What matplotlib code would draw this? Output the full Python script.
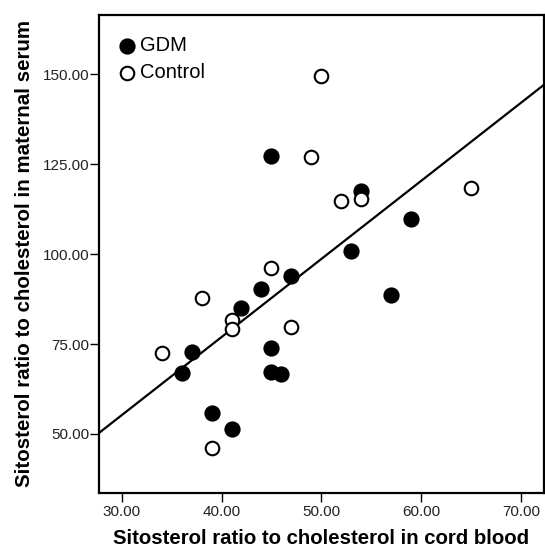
import numpy as np
import matplotlib.pyplot as plt

plt.rcParams['font.family'] = ['Liberation Sans', 'DejaVu Sans']

# GDM (filled)
gdm_x = [45, 54, 59, 53, 47, 44, 57, 42, 37, 45, 36, 45, 46, 39, 41]
gdm_y = [127.4, 117.6, 109.8, 100.8, 93.8, 90.4, 88.75, 85.0, 72.8, 74.0, 67.0, 67.2, 66.7, 55.9, 51.4]

# Control (open)
ctrl_x = [50, 49, 54, 52, 65, 45, 38, 41, 41, 47, 34, 39]
ctrl_y = [149.6, 126.9, 115.3, 114.7, 118.4, 96.2, 87.8, 81.8, 79.3, 79.8, 72.4, 46.0]

# fit line
line_slope = 2.172
line_intercept = -9.93

x_ticks = [30, 40, 50, 60, 70]
y_ticks = [50, 75, 100, 125, 150]

fig = plt.figure(figsize=(5.45, 5.51), dpi=100)
ax = fig.add_axes([0.1817, 0.1053, 0.8165, 0.8675])

xlim = (27.73, 72.3)
ylim = (33.6, 166.5)

xs = np.array(xlim)
ax.plot(xs, line_intercept + line_slope * xs, color='black', lw=1.6, zorder=1)

ax.scatter(gdm_x, gdm_y, s=110, color='black', edgecolor='black', lw=1.2,
           label='GDM', zorder=3)
ax.scatter(ctrl_x, ctrl_y, s=95, facecolor='white', edgecolor='black', lw=1.5,
           label='Control', zorder=3)

ax.set_xlim(*xlim)
ax.set_ylim(*ylim)
ax.set_xticks(x_ticks)
ax.set_yticks(y_ticks)
ax.set_xticklabels(['%.2f' % v for v in x_ticks])
ax.set_yticklabels(['%.2f' % v for v in y_ticks])
ax.tick_params(direction='out', length=6.5, width=1, labelsize=11, labelcolor='#222222')
ax.tick_params(axis='y', pad=0.5)
ax.tick_params(axis='x', pad=2.5)

for sp in ax.spines.values():
    sp.set_linewidth(1.6)

ax.set_xlabel('Sitosterol ratio to cholesterol in cord blood', fontsize=14.7,
              fontweight='bold', labelpad=7)
ax.set_ylabel('Sitosterol ratio to cholesterol in maternal serum', fontsize=14.8,
              fontweight='bold', labelpad=6)

leg = ax.legend(loc='upper left', frameon=False, fontsize=14.5, handletextpad=0.1,
                borderaxespad=0.3, labelspacing=0.4, handlelength=1.1,
                borderpad=0.75, bbox_to_anchor=(-0.01, 1.0))

fig.savefig('out.png', dpi=100)
